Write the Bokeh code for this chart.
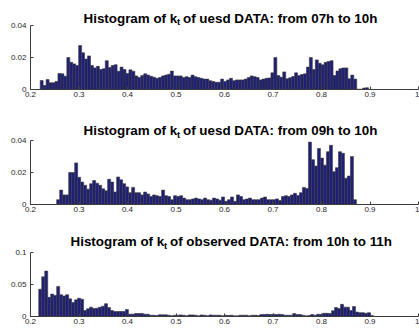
import numpy as np
from bokeh.plotting import figure
from bokeh.layouts import column
from bokeh.models import Range1d, FixedTicker, CustomJSTickFormatter, Label, ColumnDataSource
from bokeh.embed import file_html
from bokeh.resources import INLINE

# ---------------- data ----------------
x_ticks = [0.2, 0.3, 0.4, 0.5, 0.6, 0.7, 0.8, 0.9, 1.0]

title1 = ("Histogram of k", "t", "of uesd DATA: from 07h to 10h")
title2 = ("Histogram of k", "t", "of uesd DATA: from 09h to 10h")
title3 = ("Histogram of k", "t", "of observed DATA: from 10h to 11h")

p1_range = (0.220, 0.897)
p1_heights = [
    0.0056, 0.0025, 0.0062, 0.0042, 0.0042, 0.005, 0.010, 0.0098, 0.0083, 0.020,
    0.017, 0.016, 0.015, 0.0275,
    0.023, 0.019, 0.021, 0.015, 0.0135, 0.0145, 0.0125, 0.013,
    0.018,
    0.0137, 0.015, 0.0155, 0.0114, 0.014, 0.0125, 0.010, 0.0123, 0.0114, 0.0085,
    0.0075, 0.0087, 0.0098, 0.009, 0.0083, 0.0077, 0.007, 0.0075, 0.0085, 0.009, 0.0095,
    0.0115,
    0.0085, 0.0085, 0.0085, 0.0075, 0.008, 0.0075, 0.009, 0.008, 0.0075, 0.007,
    0.0065, 0.0065, 0.0055, 0.005, 0.0045, 0.0045, 0.0065, 0.005, 0.006, 0.007,
    0.0055, 0.006, 0.006, 0.006, 0.0065, 0.0075, 0.0085, 0.008, 0.0075, 0.006,
    0.0065, 0.007, 0.0072, 0.0104,
    0.020,
    0.0087, 0.0077, 0.011, 0.0067, 0.0073, 0.0081, 0.0104, 0.0087, 0.0094, 0.0098, 0.014,
    0.020,
    0.0125, 0.0185, 0.0164, 0.0154, 0.017, 0.0175, 0.018, 0.0087, 0.0116, 0.013,
    0.0135, 0.0135, 0.0067, 0.009, 0.0065,
    0.0002, 0.0002, 0.0009, 0.0011,
]

p2_range = (0.254, 0.872)
p2_heights = [
    0.003, 0.009, 0.006, 0.006, 0.020, 0.020, 0.026, 0.017, 0.014, 0.012,
    0.0096, 0.013, 0.015, 0.0133, 0.012, 0.0098, 0.0086, 0.0158, 0.014, 0.0078,
    0.0172, 0.0154, 0.013, 0.011, 0.0074, 0.0107, 0.0074, 0.0074, 0.006, 0.0078,
    0.0066, 0.005, 0.006, 0.0055, 0.005, 0.009, 0.0055, 0.005, 0.003, 0.0055,
    0.005, 0.0055, 0.004, 0.003, 0.003, 0.0035, 0.004, 0.0035, 0.003, 0.004,
    0.003, 0.0027, 0.004, 0.0035, 0.0027, 0.0047, 0.002, 0.003, 0.0047, 0.002,
    0.006, 0.005, 0.003, 0.0035, 0.004, 0.003, 0.003, 0.003, 0.004, 0.0047,
    0.003, 0.003, 0.003, 0.0035, 0.0025, 0.005, 0.0055, 0.005, 0.006, 0.007,
    0.0057, 0.0074, 0.0107, 0.010,
    0.039, 0.028, 0.024, 0.035, 0.029, 0.0246, 0.033, 0.037, 0.0205, 0.023,
    0.033, 0.032, 0.0164, 0.0178, 0.030, 0.003,
]

p3_range = (0.217, 0.907)
p3_heights = [
    0.0426, 0.062, 0.071, 0.030, 0.035, 0.033, 0.047, 0.034, 0.032, 0.034,
    0.0276, 0.022, 0.026, 0.0286, 0.027,
    0.0094, 0.012, 0.0146, 0.0125, 0.013, 0.0146, 0.016, 0.020, 0.014, 0.0094,
    0.0078, 0.0078, 0.0078, 0.0078, 0.011,
    0.0036, 0.0036, 0.0047, 0.0047, 0.0047, 0.0036, 0.0036, 0.002, 0.002, 0.0015,
    0.0026, 0.0026, 0.0026, 0.002, 0.001, 0.002, 0.002,
    0.0025, 0.002, 0.001, 0.0025, 0.0025, 0.002, 0.001, 0.0025, 0.002, 0.001,
    0.0025, 0.002, 0.002, 0.002, 0.001, 0.002,
    0.0015, 0.002, 0.001,
    0.001, 0.002, 0.002, 0.002, 0.001, 0.002, 0.002, 0.0015,
    0.003, 0.003, 0.0035, 0.003, 0.0035, 0.003, 0.0035, 0.003,
    0.002, 0.002, 0.002, 0.0045, 0.003, 0.003, 0.002, 0.001,
    0.0015, 0.003, 0.002, 0.0035, 0.003, 0.005, 0.005, 0.0045,
    0.009, 0.014, 0.0125, 0.019, 0.0146, 0.0146, 0.0094, 0.0156, 0.007, 0.006,
    0.006, 0.005, 0.006, 0.0015,
]

# ---------------- layout / style ----------------
FONT = "Liberation Sans"
AXIS_PX = 64          # pixel height of the 0..ymax part of each axis
BAR_FILL = "#1f1f78"
BAR_LINE = "#3a3a3a"


def make_panel(heights, rng, yticks, title, height, bottom, x0_data, title_dy):
    ymax = yticks[-1]
    frame_h = height - bottom
    ytop = ymax * frame_h / AXIS_PX
    p = figure(width=419, height=height, output_backend="svg", toolbar_location=None,
               x_range=Range1d(0.2, 1.0), y_range=Range1d(0, ytop),
               min_border_left=30, min_border_right=1,
               min_border_top=0, min_border_bottom=bottom,
               title_location=None)
    p.outline_line_color = None
    p.xgrid.visible = False
    p.ygrid.visible = False
    p.background_fill_color = "white"
    p.border_fill_color = "white"

    edges = np.linspace(rng[0], rng[1], len(heights) + 1)
    src = ColumnDataSource(dict(left=edges[:-1], right=edges[1:], top=heights,
                                bottom=[0.0] * len(heights)))
    p.quad(left="left", right="right", top="top", bottom="bottom", source=src,
           fill_color=BAR_FILL, line_color=BAR_LINE, line_width=0.6)

    fmt = CustomJSTickFormatter(code="return (Math.round(tick*1000)/1000).toString();")
    for ax, ticks in ((p.xaxis[0], x_ticks), (p.yaxis[0], yticks)):
        ax.ticker = FixedTicker(ticks=ticks)
        ax.formatter = fmt
        ax.major_tick_in = 3
        ax.major_tick_out = 0
        ax.minor_tick_line_color = None
        ax.axis_line_color = "#3c3c3c"
        ax.major_tick_line_color = "#3c3c3c"
        ax.major_label_text_font = FONT
        ax.major_label_text_font_size = "8px"
        ax.major_label_text_color = "#262626"
    p.yaxis.bounds = (0, ymax)
    p.xaxis.major_label_standoff = 2
    p.yaxis.major_label_standoff = 4

    per_px = ymax / AXIS_PX
    dx = 1.0 / 485.0
    y_main = ymax + title_dy * per_px
    y_sub = ymax + (title_dy - 3.5) * per_px
    parts = [
        (x0_data, y_main, title[0], "13.4px"),
        (x0_data + 93.5 * dx, y_sub, title[1], "9.5px"),
        (x0_data + 99.5 * dx, y_main, title[2], "13.4px"),
    ]
    for x, y, txt, size in parts:
        p.add_layout(Label(x=x, y=y, text=txt, text_font=FONT, text_font_style="bold",
                           text_font_size=size, text_color="black",
                           text_align="left", text_baseline="alphabetic"))
    return p


p1 = make_panel(p1_heights, p1_range, [0, 0.02, 0.04], title1, 111, 22, 0.30928, 7.2)
p2 = make_panel(p2_heights, p2_range, [0, 0.02, 0.04], title2, 111, 18, 0.30928, 10.0)
p3 = make_panel(p3_heights, p3_range, [0, 0.05, 0.1], title3, 111, 17, 0.28247, 11.0)

p = column(p1, p2, p3, spacing=0)

open("out.html", "w").write(file_html(p, INLINE))
